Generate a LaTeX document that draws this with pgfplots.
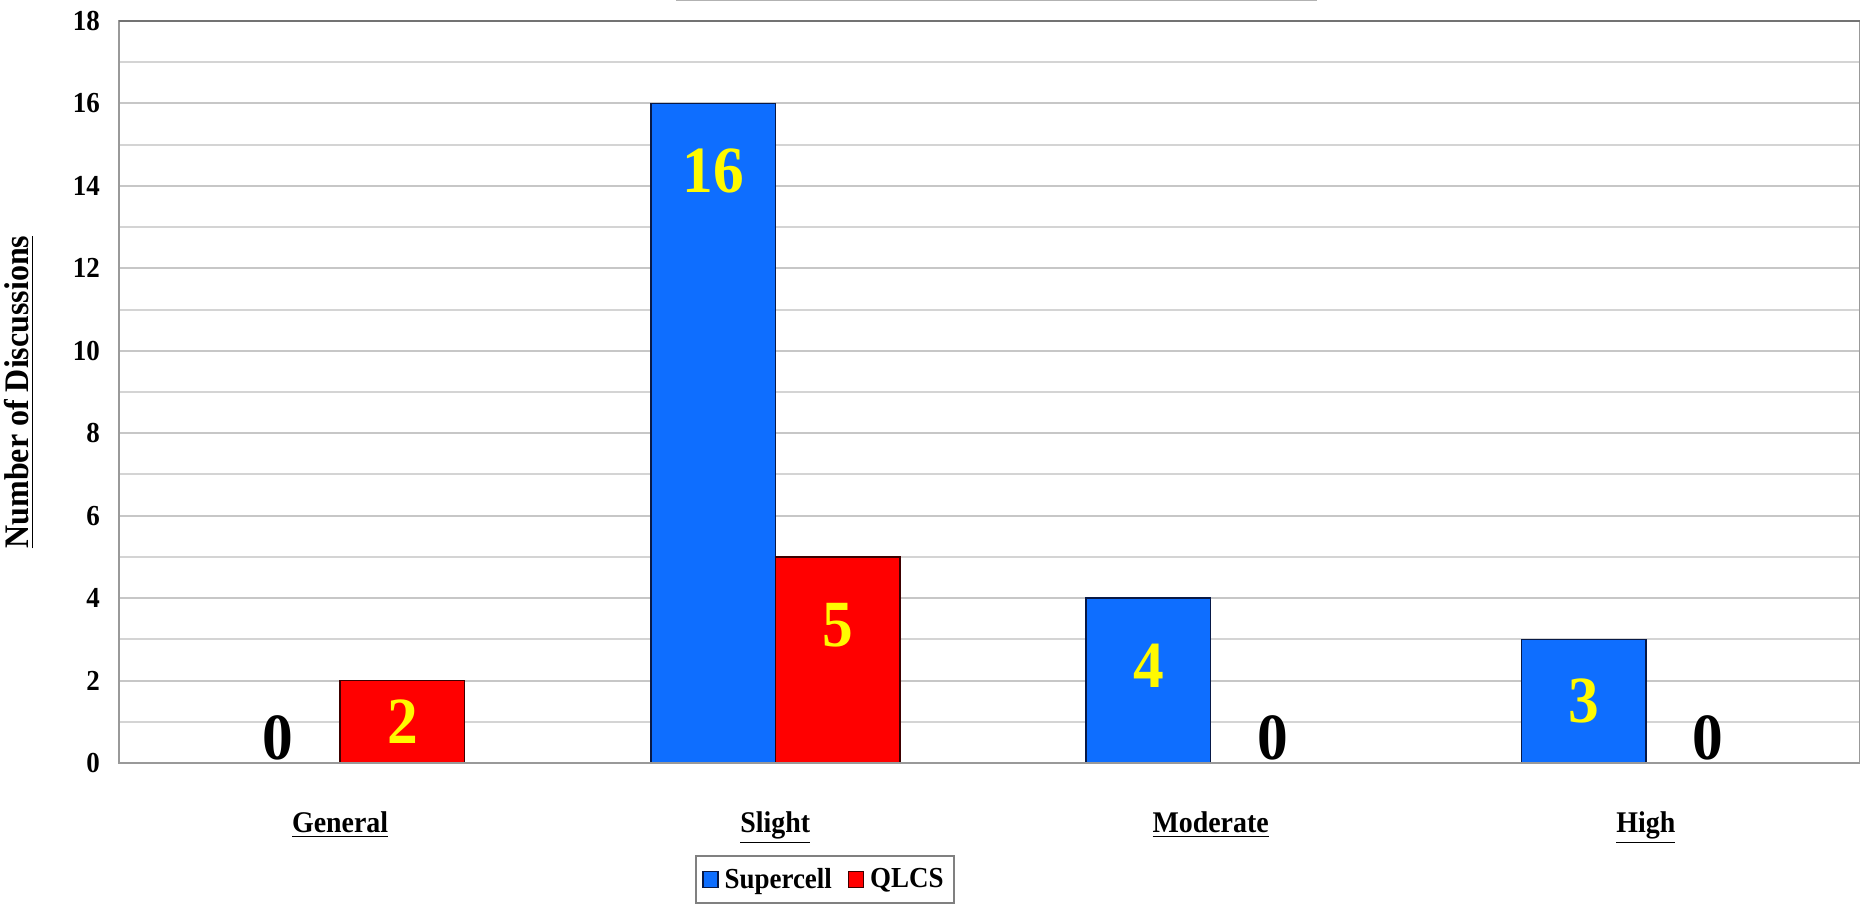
\documentclass[border=0pt]{standalone}
\usepackage{fontspec}
\setmainfont{Liberation Serif}[FakeStretch=0.93]
\usepackage{pgfplots}
\pgfplotsset{compat=1.18}

\definecolor{scblue}{RGB}{14,110,255}
\definecolor{scedge}{RGB}{8,25,70}
\definecolor{qred}{RGB}{255,0,0}
\definecolor{qedge}{RGB}{60,0,0}
\definecolor{lblyellow}{RGB}{255,250,0}

% outlook category (0..3), supercell and QLCS discussion counts
\pgfplotstableread{
x sc ql
0 0  2
1 16 5
2 4  0
3 3  0
}\discussions

\newcommand{\tickfont}{\fontsize{14.5}{16}\selectfont\bfseries}
\newcommand{\catfont}{\fontsize{15}{17}\selectfont\bfseries}
\newcommand{\legfont}{\fontsize{14.5}{16}\selectfont\bfseries}
\newcommand{\valfont}{\fontsize{33}{33}\selectfont\bfseries}

\begin{document}
\begin{tikzpicture}
\begin{axis}[
  scale only axis, width=870.5pt, height=371pt,
  ybar=0pt, bar width=0.286,
  xmin=-0.508, xmax=3.492, ymin=0, ymax=18,
  xtick={0,1,2,3},
  xticklabels={\underline{General},\underline{Slight},\underline{Moderate},\underline{High}},
  ytick={0,2,...,18}, minor y tick num=1,
  ymajorgrids, yminorgrids,
  major grid style={draw=black!22, line width=1pt},
  minor grid style={draw=black!17, line width=1pt},
  major tick length=0pt, minor tick length=0pt,
  axis line style={draw=black!40, line width=1pt},
  tick label style={font=\tickfont},
  xticklabel style={font=\catfont, yshift=-21pt},
  /pgf/number format/assume math mode=true,
  yticklabel style={xshift=-6pt},
  ylabel={\underline{Number of Discussions}},
  every axis y label/.style={at={(axis description cs:-0.0575,0.5)}, rotate=90, anchor=center, font=\fontsize{17.2}{19}\selectfont\bfseries},
  legend style={at={(0.4055,-0.124)}, anchor=north, legend columns=2, draw=black!50, line width=1pt,
    font=\legfont, inner xsep=3pt, inner ysep=4pt,
    /tikz/every odd column/.append style={column sep=1pt},
    /tikz/every even column/.append style={column sep=6pt}},
  legend image code/.code={\draw[#1,line width=0.6pt] (0pt,-4pt) rectangle (7.5pt,4pt);},
  visualization depends on={rawy \as \myy},
  nodes near coords={\ifdim\myy pt=0pt \textcolor{black}{0}\else\pgfmathprintnumber{\pgfplotspointmeta}\fi},
  every node near coord/.append style={font=\valfont, text=lblyellow, anchor=center,
    yshift={ifthenelse(\myy==0,12.5,-min(\myy*10.3,34))}},
]
\addplot[fill=scblue, draw=scedge, line width=0.8pt] table[x=x, y=sc] {\discussions};
\addlegendentry{Supercell}
\addplot[fill=qred, draw=qedge, line width=0.8pt] table[x=x, y=ql] {\discussions};
\addlegendentry{QLCS}
% baseline and top frame redrawn over the bars
\draw[black!40, line width=1pt] (rel axis cs:0,0) -- (rel axis cs:1,0);
\draw[black!55, line width=1.2pt] (rel axis cs:0,1) -- (rel axis cs:1,1);
\end{axis}
% underline of the heading above the plot
\draw[black!30, line width=0.8pt] (278.5pt,381.3pt) -- (599pt,381.3pt);
\pgfresetboundingbox
\path (-59.5pt,-71pt) rectangle (870.5pt,381.5pt);
\end{tikzpicture}
\end{document}
